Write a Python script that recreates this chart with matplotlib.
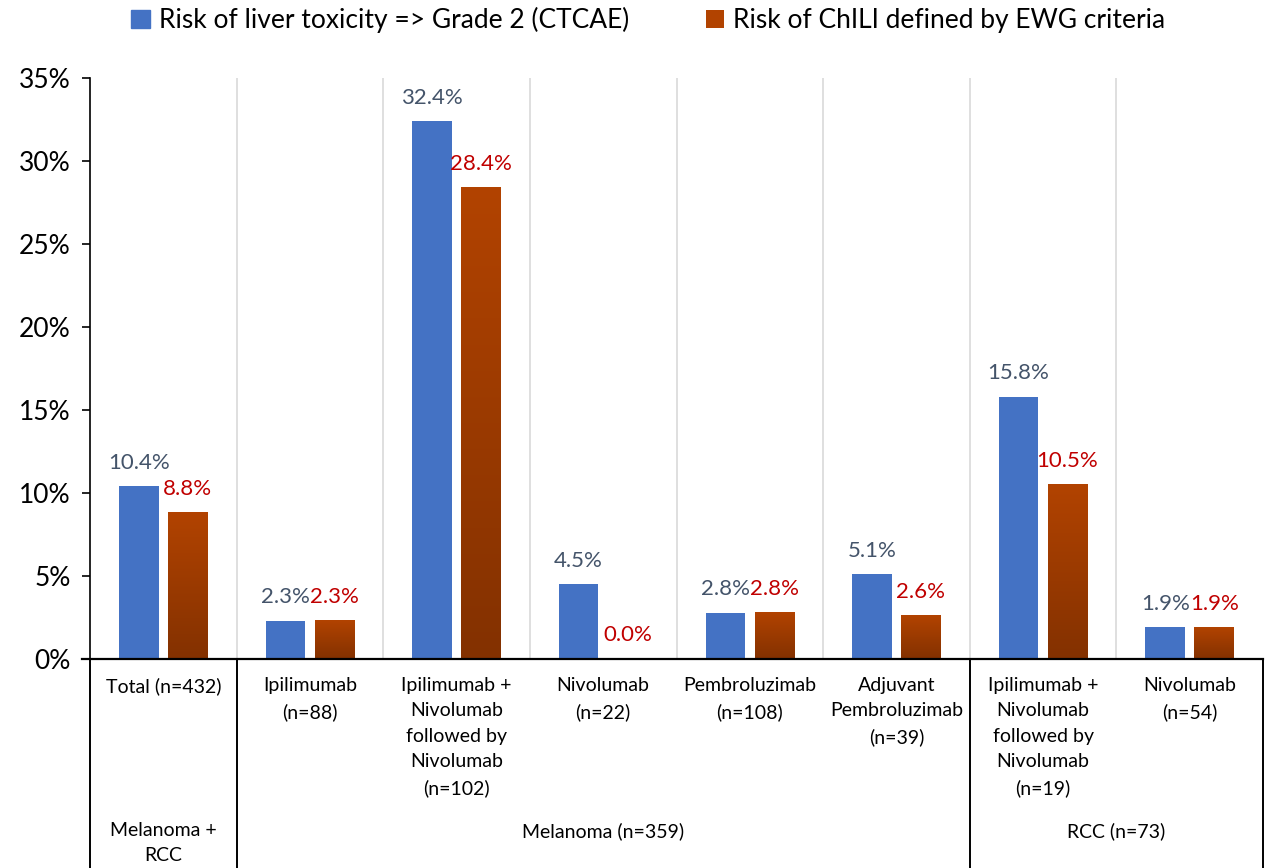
import matplotlib
matplotlib.use("Agg")
import matplotlib.pyplot as plt
import numpy as np
from matplotlib.patches import Patch
from matplotlib.colors import LinearSegmentedColormap
from matplotlib.ticker import PercentFormatter

plt.rcParams["font.family"] = ["Lato", "DejaVu Sans"]

categories = [
    "Total (n=432)",
    "Ipilimumab\n(n=88)",
    "Ipilimumab +\nNivolumab\nfollowed by\nNivolumab\n(n=102)",
    "Nivolumab\n(n=22)",
    "Pembroluzimab\n(n=108)",
    "Adjuvant\nPembroluzimab\n(n=39)",
    "Ipilimumab +\nNivolumab\nfollowed by\nNivolumab\n(n=19)",
    "Nivolumab\n(n=54)",
]
groups = ["Melanoma +\nRCC", "Melanoma (n=359)", "RCC (n=73)"]
group_sizes = [1, 5, 2]

ctcae = [10.4, 2.3, 32.4, 4.5, 2.8, 5.1, 15.8, 1.9]
ewg = [8.8, 2.3, 28.4, 0.0, 2.8, 2.6, 10.5, 1.9]

series_names = ["Risk of liver toxicity => Grade 2 (CTCAE)",
                "Risk of ChILI defined by EWG criteria"]

BLUE = "#4472C4"
ORANGE_TOP = "#B24300"
ORANGE_BOT = "#833100"
BLUE_LABEL = "#44546A"
RED_LABEL = "#C00000"

W, H = 1266, 868
fig = plt.figure(figsize=(W / 100, H / 100), dpi=100)
ax_l, ax_r, ax_b, ax_t = 90 / W, 1263 / W, (H - 659) / H, (H - 78) / H
ax = fig.add_axes([ax_l, ax_b, ax_r - ax_l, ax_t - ax_b])
ax_h_px = (ax_t - ax_b) * H

def below(px):
    # pixel distance under the x axis -> axes fraction
    return -px / ax_h_px

x = np.arange(len(categories))
bw = 0.27
off = 0.167

ax.bar(x - off, ctcae, bw, color=BLUE, zorder=3)

# orange bars with a vertical gradient per bar
cmap = LinearSegmentedColormap.from_list("ewg", [ORANGE_BOT, ORANGE_TOP])
grad = np.linspace(0, 1, 256).reshape(-1, 1)
for xi, v in zip(x, ewg):
    if v <= 0:
        continue
    ax.imshow(grad, extent=[xi + off - bw / 2, xi + off + bw / 2, 0, v],
              origin="lower", aspect="auto", cmap=cmap, zorder=3)

ax.set_xlim(-0.5, len(categories) - 0.5)
ax.set_ylim(0, 35)
ax.set_aspect("auto")

# value labels
for xi, v in zip(x, ctcae):
    ax.annotate(f"{v:.1f}%", (xi - off, v), xytext=(0, 17), textcoords="offset points",
                ha="center", va="center", fontsize=16, color=BLUE_LABEL, zorder=4)
for xi, v in zip(x, ewg):
    ax.annotate(f"{v:.1f}%", (xi + off, v), xytext=(0, 17), textcoords="offset points",
                ha="center", va="center", fontsize=16, color=RED_LABEL, zorder=4)

# light vertical separators between categories
for b in np.arange(0.5, len(categories) - 0.5, 1):
    ax.axvline(b, color="#D9D9D9", lw=1.2, zorder=1)

# axes styling
for s in ["top", "right", "bottom"]:
    ax.spines[s].set_visible(False)
ax.spines["left"].set_color("black")
ax.spines["left"].set_linewidth(1.2)
ax.yaxis.set_major_formatter(PercentFormatter(decimals=0))
ax.set_yticks(np.arange(0, 36, 5))
ax.tick_params(axis="y", length=6, width=1.2, labelsize=19, pad=8, colors="black")
ax.set_xticks([])

# multi-level category axis below the plot
xt = ax.get_xaxis_transform()
ax.plot([-0.5 - 0.055, len(categories) - 0.5], [0, 0], color="black", lw=1.6,
        transform=xt, clip_on=False, zorder=5)
bottom = below(220)
bounds = np.concatenate([[0], np.cumsum(group_sizes)]) - 0.5
for b in bounds:
    ax.plot([b, b], [0, bottom], color="black", lw=1.4,
            transform=xt, clip_on=False)

for xi, lab in zip(x, categories):
    ax.text(xi, below(18), lab, transform=xt, ha="center", va="top",
            fontsize=14, linespacing=1.6)

for g, a, b in zip(groups, bounds[:-1], bounds[1:]):
    ax.text((a + b) / 2, below(163), g, transform=xt, ha="center", va="top",
            fontsize=14, linespacing=1.6)

# legend
handles = [Patch(color=BLUE), Patch(facecolor=ORANGE_TOP)]
fig.legend(handles, series_names, loc="center", bbox_to_anchor=(0.512, 1 - 20 / H),
           ncol=2, frameon=False, fontsize=19, handlelength=0.7, handleheight=0.7,
           handletextpad=0.35, columnspacing=2.9)

fig.savefig("out.png", dpi=100)
